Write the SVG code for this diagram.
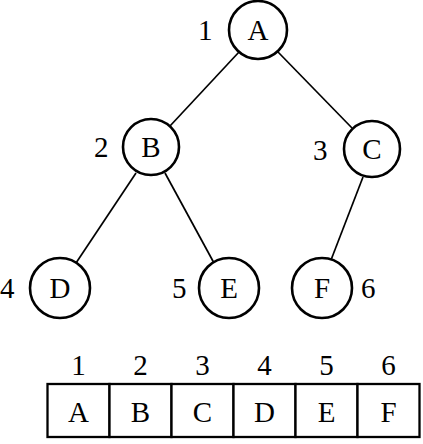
<svg xmlns="http://www.w3.org/2000/svg" width="423" height="444" viewBox="0 0 423 444">
<style>
.n circle{fill:#fff;stroke:#000;stroke-width:2.6}
.c{text-anchor:middle}
.e line{stroke:#000;stroke-width:1.7}
.cell{fill:#fff;stroke:#000;stroke-width:2.3}
text{font-family:"Liberation Serif","Times New Roman",serif;font-size:29px;fill:#000}
</style>
<rect width="423" height="444" fill="#fff"/>
<g class="e" id="connectors">
<line x1="239" y1="52" x2="170" y2="126"/>
<line x1="278" y1="52" x2="352" y2="128"/>
<line x1="136" y1="173" x2="76" y2="263"/>
<line x1="165" y1="173" x2="214" y2="263"/>
<line x1="363" y1="177" x2="331" y2="260"/>
</g>
<g class="n" id="node-A"><circle cx="258" cy="30" r="29"/><text class="c" x="258" y="40">A</text><text x="198" y="40">1</text></g>
<g class="n" id="node-B"><circle cx="151" cy="147" r="28"/><text class="c" x="151" y="157">B</text><text x="94" y="157">2</text></g>
<g class="n" id="node-C"><circle cx="372" cy="149" r="28"/><text class="c" x="372" y="159">C</text><text x="313" y="160">3</text></g>
<g class="n" id="node-D"><circle cx="60" cy="288" r="30"/><text class="c" x="60" y="298">D</text><text x="0" y="298">4</text></g>
<g class="n" id="node-E"><circle cx="229" cy="288" r="30"/><text class="c" x="229" y="298">E</text><text x="172" y="298">5</text></g>
<g class="n" id="node-F"><circle cx="322" cy="288" r="30"/><text class="c" x="322" y="298">F</text><text x="361" y="298">6</text></g>
<g id="array">
<rect class="cell" x="47.5" y="384" width="62" height="53"/>
<rect class="cell" x="109.5" y="384" width="62" height="53"/>
<rect class="cell" x="171.5" y="384" width="62" height="53"/>
<rect class="cell" x="233.5" y="384" width="62" height="53"/>
<rect class="cell" x="295.5" y="384" width="62" height="53"/>
<rect class="cell" x="357.5" y="384" width="62" height="53"/>
<text class="c" x="78.5" y="375">1</text>
<text class="c" x="140.5" y="375">2</text>
<text class="c" x="202.5" y="375">3</text>
<text class="c" x="264.5" y="375">4</text>
<text class="c" x="326.5" y="375">5</text>
<text class="c" x="388.5" y="375">6</text>
<text class="c" x="78.5" y="422">A</text>
<text class="c" x="140.5" y="422">B</text>
<text class="c" x="202.5" y="422">C</text>
<text class="c" x="264.5" y="422">D</text>
<text class="c" x="326.5" y="422">E</text>
<text class="c" x="388.5" y="422">F</text>
</g>
</svg>
